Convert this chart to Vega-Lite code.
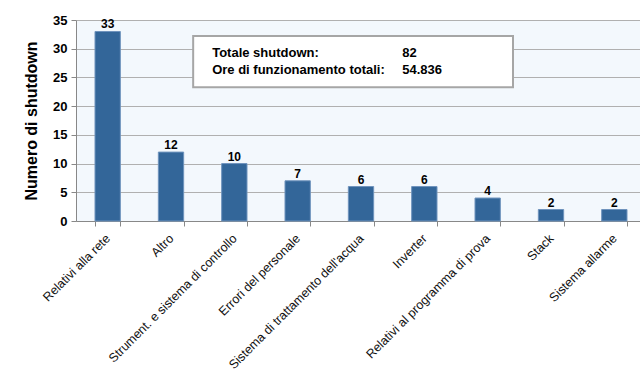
{
  "$schema": "https://vega.github.io/schema/vega-lite/v6.json",
  "autosize": "none",
  "padding": {"left": 76, "top": 20, "right": 0, "bottom": 158},
  "width": 570,
  "height": 201,
  "background": "white",
  "config": {
    "font": "Liberation Sans",
    "view": {"fill": "#f3f8fd", "stroke": null}
  },
  "layer": [
    {
      "data": {"values": [
        {"causa": "Relativi alla rete", "n": 33},
        {"causa": "Altro", "n": 12},
        {"causa": "Strument. e sistema di controllo", "n": 10},
        {"causa": "Errori del personale", "n": 7},
        {"causa": "Sistema di trattamento dell'acqua", "n": 6},
        {"causa": "Inverter", "n": 6},
        {"causa": "Relativi al programma di prova", "n": 4},
        {"causa": "Stack", "n": 2},
        {"causa": "Sistema allarme", "n": 2}
      ]},
      "encoding": {
        "x": {"field": "causa", "type": "nominal", "sort": null,
          "scale": {"paddingInner": 0.6, "paddingOuter": 0.3},
          "axis": {"title": null, "labelAngle": -45, "labelAlign": "right", "labelBaseline": "middle",
            "labelFontSize": 12.5, "labelColor": "#111", "labelPadding": 10, "tickBand": "extent",
            "domainColor": "#888", "tickColor": "#888", "tickSize": 5, "labelLimit": 300}},
        "y": {"field": "n", "type": "quantitative",
          "scale": {"domain": [0, 35]},
          "axis": {"title": "Numero di shutdown", "titleFontSize": 16, "titleFontWeight": "bold", "titleColor": "#000",
            "titlePadding": 13, "values": [0, 5, 10, 15, 20, 25, 30, 35], "labelOverlap": false, "labelFontSize": 13, "labelFontWeight": "bold",
            "labelColor": "#000", "gridColor": "#b0b0b0", "domainColor": "#888", "tickColor": "#888", "tickSize": 5, "labelPadding": 4}}
      },
      "layer": [
        {"mark": {"type": "bar", "color": "#336699", "stroke": "#6f93bd", "strokeWidth": 1}},
        {"mark": {"type": "text", "dy": -7, "fontSize": 12, "fontWeight": "bold", "color": "#000"},
          "encoding": {"text": {"field": "n", "type": "quantitative"}}}
      ]
    },
    {
      "data": {"values": [{"x0": 1.85, "x1": 6.9, "y0": 23.3, "y1": 32.2}]},
      "mark": {"type": "rect", "fill": "white", "stroke": "#a6a6a6", "strokeWidth": 2},
      "encoding": {
        "x": {"field": "x0", "type": "quantitative", "scale": {"domain": [0, 9]}, "axis": null},
        "x2": {"field": "x1"},
        "y": {"field": "y0", "type": "quantitative",
          "axis": {"title": "Numero di shutdown", "titleFontSize": 16, "titleFontWeight": "bold", "titleColor": "#000",
            "titlePadding": 13, "values": [0, 5, 10, 15, 20, 25, 30, 35], "labelOverlap": false, "labelFontSize": 13, "labelFontWeight": "bold",
            "labelColor": "#000", "gridColor": "#b0b0b0", "domainColor": "#888", "tickColor": "#888", "tickSize": 5, "labelPadding": 4}},
        "y2": {"field": "y1"}
      }
    },
    {
      "data": {"values": [
        {"x": 2.15, "y": 29.25, "t": "Totale shutdown:"},
        {"x": 2.15, "y": 26.3, "t": "Ore di funzionamento totali:"},
        {"x": 5.15, "y": 29.25, "t": "82"},
        {"x": 5.15, "y": 26.3, "t": "54.836"}
      ]},
      "mark": {"type": "text", "align": "left", "baseline": "middle", "fontSize": 13, "fontWeight": "bold", "color": "#000"},
      "encoding": {
        "x": {"field": "x", "type": "quantitative", "scale": {"domain": [0, 9]}, "axis": null},
        "y": {"field": "y", "type": "quantitative",
          "axis": {"title": "Numero di shutdown", "titleFontSize": 16, "titleFontWeight": "bold", "titleColor": "#000",
            "titlePadding": 13, "values": [0, 5, 10, 15, 20, 25, 30, 35], "labelOverlap": false, "labelFontSize": 13, "labelFontWeight": "bold",
            "labelColor": "#000", "gridColor": "#b0b0b0", "domainColor": "#888", "tickColor": "#888", "tickSize": 5, "labelPadding": 4}},
        "text": {"field": "t"}
      }
    }
  ],
  "resolve": {"scale": {"x": "independent"}}
}
